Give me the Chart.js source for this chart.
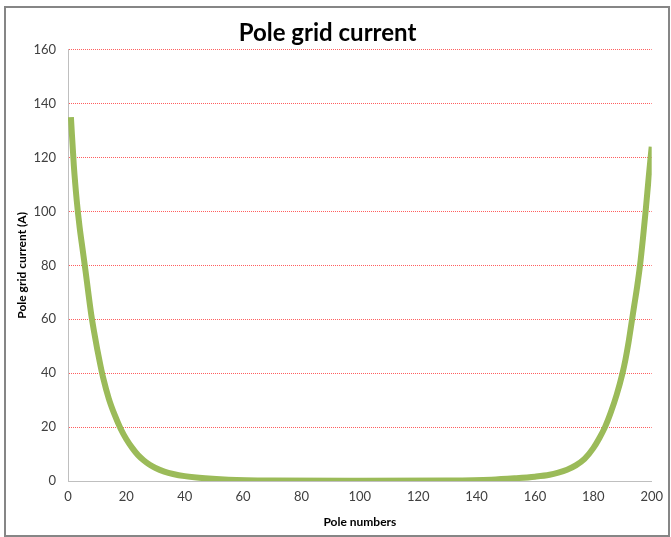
<!DOCTYPE html>
<html>
<head>
<meta charset="utf-8">
<script src="https://cdn.jsdelivr.net/npm/chart.js@4.4.0/dist/chart.umd.min.js"></script>
<style>
  html, body { margin: 0; padding: 0; background: #fff; }
  #wrap { position: relative; width: 671px; height: 537px; }
  #frame { position: absolute; left: 4px; top: 6px; width: 662px; height: 527px; border: 2px solid #868686; pointer-events: none; }
</style>
</head>
<body>
<div id="wrap">
  <canvas id="pole-chart" width="671" height="537"></canvas>
  <div id="frame"></div>
</div>
<script>
// pole number and current
const poles = [1, 2, 3, 4, 5, 6, 7, 8, 9, 10, 11, 12, 14, 16, 18, 20, 22, 24, 26, 28, 30, 33, 36, 40, 47, 55, 70, 100,
  130, 145, 153, 160, 165, 168, 171, 174, 177, 180, 182, 184, 186, 188, 190, 191, 192, 193, 194, 195, 196, 197, 198, 199, 200];
const current = [135, 117, 104, 94, 86, 78, 69.5, 61.5, 55, 49, 43.5, 38.5, 30.5, 24.5, 19.5, 15.5, 12.3, 9.6, 7.6, 6, 4.8, 3.5, 2.6, 1.8, 1, 0.5, 0.2, 0.1,
  0.2, 0.5, 1, 1.6, 2.3, 3.1, 4.2, 5.8, 8.2, 12.2, 15.8, 20, 25.5, 32, 40, 45, 51, 58, 65, 72, 80, 90, 101, 113, 124];

const xTicks = [0, 20, 40, 60, 80, 100, 120, 140, 160, 180, 200];
const yTicks = [0, 20, 40, 60, 80, 100, 120, 140, 160];

const points = poles.map((p, i) => ({ x: p, y: current[i] }));
const font = "Lato, 'Open Sans', sans-serif";

new Chart(document.getElementById('pole-chart'), {
  type: 'line',
  data: {
    datasets: [{
      data: points,
      borderColor: '#9bbb59',
      borderWidth: 6,
      pointRadius: 0,
      cubicInterpolationMode: 'monotone',
      fill: false
    }]
  },
  options: {
    responsive: false,
    animation: false,
    layout: { padding: { left: 0, right: 16, top: 0, bottom: 0 } },
    plugins: {
      legend: { display: false },
      tooltip: { enabled: false },
      title: {
        display: true,
        text: 'Pole grid current',
        color: '#000',
        font: { family: font, size: 24, weight: 'bold' },
        padding: { top: 19, bottom: 2 }
      }
    },
    scales: {
      x: {
        type: 'linear',
        min: 0,
        max: 200,
        afterBuildTicks: (s) => { s.ticks = xTicks.map(v => ({ value: v })); },
        afterFit: (s) => { s.height = 56; },
        ticks: { color: '#404040', font: { family: font, size: 13 }, padding: 8, maxRotation: 0 },
        grid: { drawOnChartArea: false, drawTicks: false },
        border: { display: true, color: '#bfbfbf', width: 1, z: 1 },
        title: {
          display: true,
          text: 'Pole numbers',
          color: '#000',
          font: { family: font, size: 12, weight: 'bold' },
          padding: { top: 6, bottom: 8 }
        }
      },
      y: {
        min: 0,
        max: 160,
        afterBuildTicks: (s) => { s.ticks = yTicks.map(v => ({ value: v })); },
        afterFit: (s) => { s.width = 68; },
        ticks: { color: '#404040', font: { family: font, size: 13 }, padding: 12 },
        grid: {
          drawTicks: false,
          color: 'rgba(255, 40, 40, 0.75)',
          lineWidth: 1
        },
        border: { display: true, color: '#bfbfbf', width: 1, dash: [1, 1] },
        title: {
          display: true,
          text: 'Pole grid current (A)',
          color: '#000',
          font: { family: font, size: 12, weight: 'bold' },
          padding: { top: 15, bottom: 4 }
        }
      }
    }
  }
});
</script>
</body>
</html>
